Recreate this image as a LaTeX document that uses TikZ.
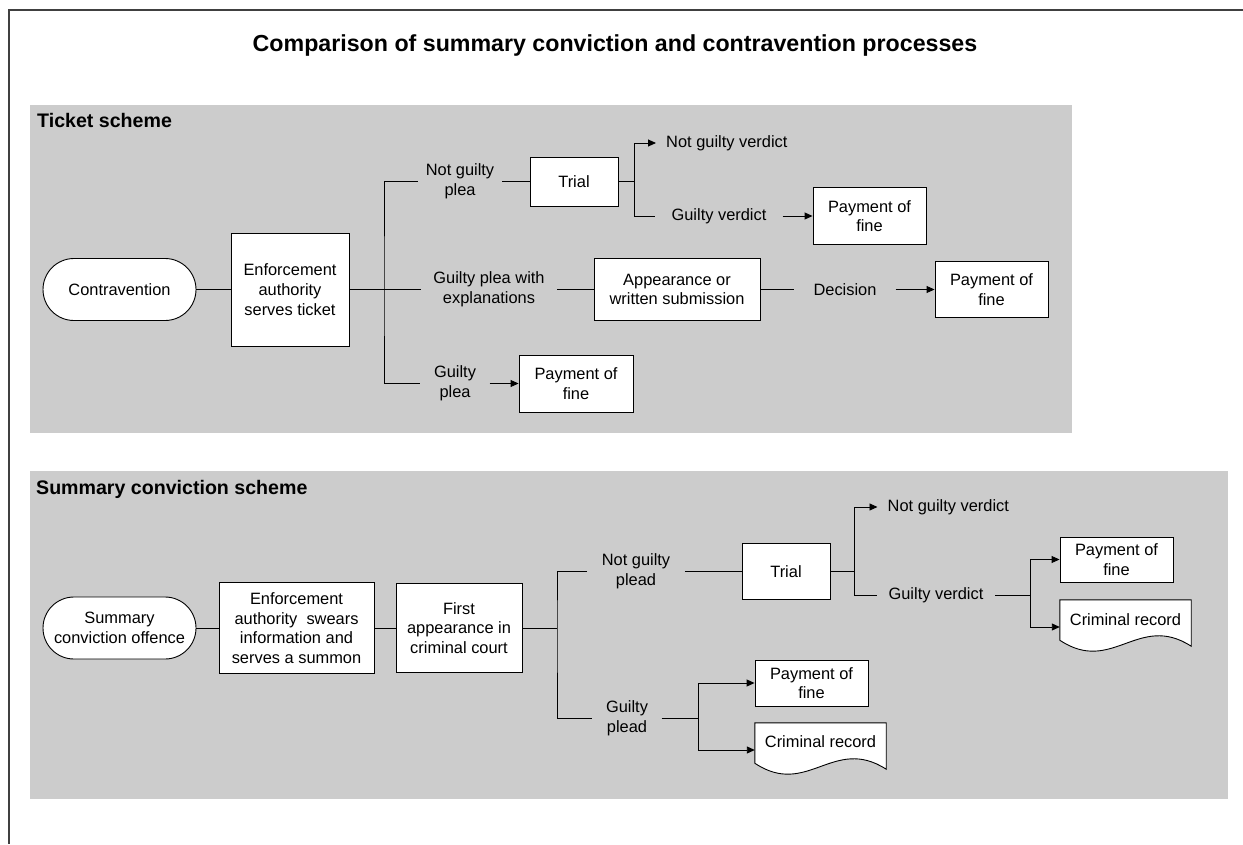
\documentclass[tikz,border=0pt]{standalone}
\usepackage{fontspec}
\setmainfont{Liberation Sans}
\usetikzlibrary{arrows.meta,calc}
\definecolor{panelgray}{HTML}{CCCCCC}
\definecolor{framegray}{HTML}{404040}
\newcommand\docpath[1]{\draw[docshape] (#1.north west) -- (#1.north east) -- ($(#1.south east)+(0,-8)$) .. controls ($(#1.south west)+(78.6,-42)$) and ($(#1.south west)+(52.4,21)$) .. ($(#1.south west)+(0,-14)$) -- cycle;}
\begin{document}
\begin{tikzpicture}[x=1pt,y=-1pt,
  every node/.style={font=\fontsize{16.4}{19.7}\selectfont},
  box/.style={draw=black,fill=white,line width=0.9pt,align=center,inner sep=0pt},
  term/.style={box,rounded corners=31pt},
  docshape/.style={draw=black,fill=white,line width=0.9pt},
  docnode/.style={draw=none,minimum width=131pt,minimum height=54pt,inner sep=0pt},
  lbl/.style={align=center,inner ysep=0pt},
  conn/.style={line width=0.9pt},
  arr/.style={conn,-{Triangle[length=8pt,width=7pt]}},
  hdr/.style={font=\fontsize{19.6}{23}\selectfont\bfseries,anchor=base west,inner sep=0pt},
]
\useasboundingbox (0,0) rectangle (1243,844);
\draw[framegray,line width=1.5pt] (1243,10) -- (9,10) -- (9,844);
\fill[panelgray] (30,105) rectangle (1072,433);
\fill[panelgray] (30,471) rectangle (1228,799);

\node[font=\fontsize{23.2}{28}\selectfont\bfseries,anchor=base,inner sep=0pt] (title) at (615,51) {Comparison of summary conviction and contravention processes};
\node[hdr] (hT) at (37,127) {Ticket scheme};
\node[hdr] (hS) at (36,494) {Summary conviction scheme};

% Ticket scheme
\node[term,minimum width=153pt,minimum height=62pt] (contr) at (119.5,289.5) {Contravention};
\node[box,minimum width=118pt,minimum height=113pt] (enf) at (290,289.5) {Enforcement\\authority\\serves ticket};
\coordinate (bT) at (384,289.5);
\node[lbl,inner xsep=8pt] (lNGP) at (460,181.5) {Not guilty\\plea};
\node[box,minimum width=88pt,minimum height=49pt] (trial1) at (574,181.5) {Trial};
\coordinate (bT2) at (634,181.5);
\node[lbl,anchor=west,inner xsep=10pt] (lNGV) at (656,143) {Not guilty verdict};
\node[lbl,inner xsep=16pt] (lGV) at (719,216) {Guilty verdict};
\node[box,minimum width=113pt,minimum height=57pt] (pay1) at (869.5,216) {Payment of\\fine};
\node[lbl,inner xsep=12.5pt] (lGPE) at (489,289.5) {Guilty plea with\\explanations};
\node[box,minimum width=166pt,minimum height=62pt] (app) at (677,289.5) {Appearance or\\written submission};
\node[lbl,inner xsep=19pt] (lDec) at (845,289.5) {Decision};
\node[box,minimum width=113pt,minimum height=56pt] (pay2) at (991.5,289.5) {Payment of\\fine};
\node[lbl,inner xsep=13.5pt] (lGP) at (455,383.5) {Guilty\\plea};
\node[box,minimum width=114pt,minimum height=57pt] (pay3) at (576,383.5) {Payment of\\fine};

\draw[conn] (contr.east) -- (enf.west);
\draw[conn] (enf.east) -- (lGPE.west);
\draw[conn] (lNGP.west) -| (bT) |- (lGP.west);
\draw[conn] (lNGP.east) -- (trial1.west);
\draw[conn] (trial1.east) -- (bT2);
\draw[arr] (bT2) |- (lNGV.west);
\draw[conn] (bT2) |- (lGV.west);
\draw[arr] (lGV.east) -- (pay1.west);
\draw[conn] (lGPE.east) -- (app.west);
\draw[conn] (app.east) -- (lDec.west);
\draw[arr] (lDec.east) -- (pay2.west);
\draw[arr] (lGP.east) -- (pay3.west);

% Summary conviction scheme
\node[term,minimum width=153pt,minimum height=62pt] (sco) at (119.5,628) {Summary\\conviction offence};
\node[box,minimum width=155pt,minimum height=91pt] (enf2) at (296.5,628) {Enforcement\\authority~ swears\\information and\\serves a summon};
\node[box,minimum width=126pt,minimum height=89pt] (first) at (459,628) {First\\appearance in\\criminal court};
\coordinate (bS) at (557,628);
\node[lbl,inner xsep=14.5pt] (sNGP) at (636,571.5) {Not guilty\\plead};
\node[box,minimum width=88pt,minimum height=56pt] (trial2) at (786,571.5) {Trial};
\coordinate (bS2) at (854,571.5);
\node[lbl,anchor=west,inner xsep=10pt] (sNGV) at (877.5,507) {Not guilty verdict};
\node[lbl,inner xsep=11.5pt] (sGV) at (936,595) {Guilty verdict};
\coordinate (bS3) at (1030,595);
\node[box,minimum width=113pt,minimum height=45pt] (pay4) at (1116.5,559.5) {Payment of\\fine};
\node[docnode] (cr1) at (1125.5,627) {};
\docpath{cr1}
\node (cr1t) at (1125.5,620) {Criminal record};
\node[lbl,inner xsep=13.5pt] (sGP) at (627,718) {Guilty\\plead};
\coordinate (bS4) at (698,718);
\node[box,minimum width=113pt,minimum height=46pt] (pay5) at (811.5,683) {Payment of\\fine};
\node[docnode] (cr2) at (820.5,750) {};
\docpath{cr2}
\node (cr2t) at (820.5,742) {Criminal record};

\draw[conn] (sco.east) -- (enf2.west);
\draw[conn] (enf2.east) -- (first.west);
\draw[conn] (first.east) -- (bS);
\draw[conn] (sNGP.west) -| (bS) |- (sGP.west);
\draw[conn] (sNGP.east) -- (trial2.west);
\draw[conn] (trial2.east) -- (bS2);
\draw[arr] (bS2) |- (sNGV.west);
\draw[conn] (bS2) |- (sGV.west);
\draw[conn] (sGV.east) -- (bS3);
\draw[arr] (bS3) |- (pay4.west);
\draw[arr] (bS3) |- (cr1.west);
\draw[conn] (sGP.east) -- (bS4);
\draw[arr] (bS4) |- (pay5.west);
\draw[arr] (bS4) |- (cr2.west);
\end{tikzpicture}
\end{document}
